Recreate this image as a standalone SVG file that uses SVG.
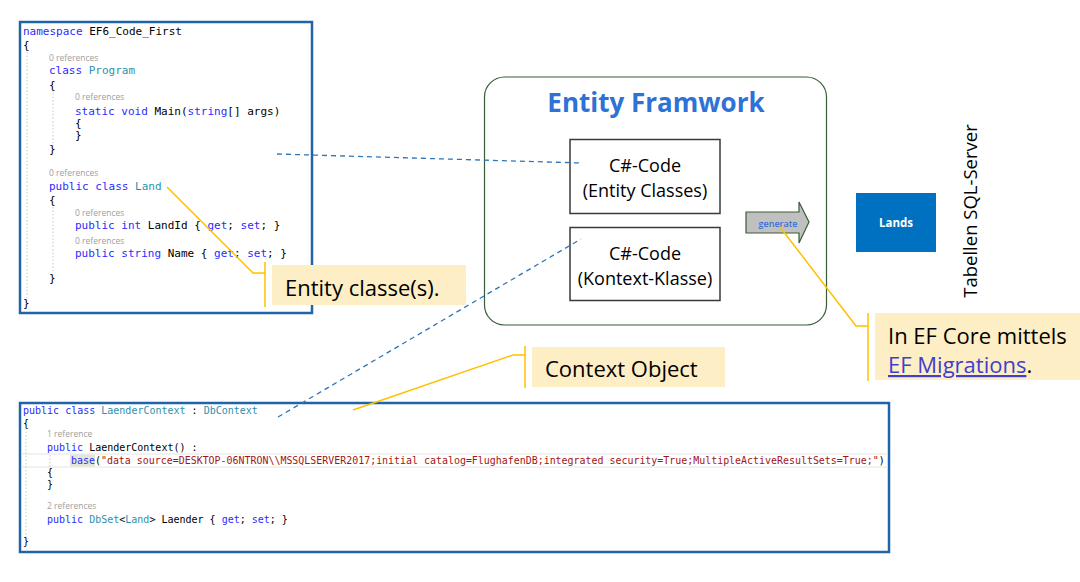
<svg xmlns="http://www.w3.org/2000/svg" width="1080" height="582" viewBox="0 0 1080 582">
<style>
.code{font-family:"DejaVu Sans Mono","Liberation Mono",monospace;fill:#000;white-space:pre}
.c11{font-size:11px}
.c10{font-size:10px}
.kw{fill:#2b2bff}
.ty{fill:#2b91af}
.st{fill:#a31515}
.ref{font-family:"Open Sans","Liberation Sans",sans-serif;font-size:8.5px;fill:#a0a0a0}
.guide{stroke:#c8c8c8;stroke-width:1;stroke-dasharray:1.5 2;fill:none}
.codebox{fill:#fff;stroke:#1f64a8;stroke-width:2.5}
.lbl{font-family:"Open Sans","Liberation Sans",sans-serif;fill:#000}
.callout{fill:#fdeec5;stroke:none}
.ydl{stroke:#ffc000;stroke-width:1.5;fill:none}
.bdash{stroke:#2e75b6;stroke-width:1.3;stroke-dasharray:5 4;fill:none}
.inner{fill:#fff;stroke:#3a3a3a;stroke-width:1.5}
</style>

<g id="code-entity">
<rect class="codebox" x="20" y="22" width="292" height="291"/>
<line class="guide" x1="27" y1="52" x2="27" y2="298"/>
<line class="guide" x1="53" y1="93" x2="53" y2="146"/>
<line class="guide" x1="53" y1="207" x2="53" y2="274"/>
<text class="code c11" x="23" y="35"><tspan class="kw">namespace</tspan> EF6_Code_First</text>
<text class="code c11" x="23" y="49">{</text>
<text class="ref" x="49" y="61">0 references</text>
<text class="code c11" x="49" y="74"><tspan class="kw">class</tspan> <tspan class="ty">Program</tspan></text>
<text class="code c11" x="49" y="89">{</text>
<text class="ref" x="75" y="100">0 references</text>
<text class="code c11" x="75" y="115"><tspan class="kw">static void</tspan> Main(<tspan class="kw">string</tspan>[] args)</text>
<text class="code c11" x="75" y="127">{</text>
<text class="code c11" x="75" y="139">}</text>
<text class="code c11" x="49" y="153">}</text>
<text class="ref" x="49" y="176">0 references</text>
<text class="code c11" x="49" y="190"><tspan class="kw">public class</tspan> <tspan class="ty">Land</tspan></text>
<text class="code c11" x="49" y="204">{</text>
<text class="ref" x="75" y="216">0 references</text>
<text class="code c11" x="75" y="229"><tspan class="kw">public int</tspan> LandId { <tspan class="kw">get</tspan>; <tspan class="kw">set</tspan>; }</text>
<text class="ref" x="75" y="244">0 references</text>
<text class="code c11" x="75" y="257"><tspan class="kw">public string</tspan> Name { <tspan class="kw">get</tspan>; <tspan class="kw">set</tspan>; }</text>
<text class="code c11" x="49" y="282">}</text>
<text class="code c11" x="23" y="307">}</text>
</g>

<g id="code-context">
<rect class="codebox" x="20" y="403" width="869" height="149"/>
<line x1="21" y1="454" x2="888" y2="454" stroke="#e4e4e4" stroke-width="1"/>
<line x1="21" y1="467" x2="888" y2="467" stroke="#e4e4e4" stroke-width="1"/>
<rect x="70" y="454.5" width="25" height="12" fill="#e3e5d6"/>
<line class="guide" x1="26" y1="428" x2="26" y2="537"/>
<line class="guide" x1="50" y1="455" x2="50" y2="480"/>
<text class="code c10" x="23" y="413.5"><tspan class="kw">public class</tspan> <tspan class="ty">LaenderContext</tspan> : <tspan class="ty">DbContext</tspan></text>
<text class="code c10" x="23" y="427">{</text>
<text class="ref" x="47" y="437">1 reference</text>
<text class="code c10" x="47" y="450.5"><tspan class="kw">public</tspan> LaenderContext() :</text>
<text class="code" font-size="9.95" x="71" y="463.5"><tspan class="kw">base</tspan>(<tspan class="st">"data source=DESKTOP-06NTRON\\MSSQLSERVER2017;initial catalog=FlughafenDB;integrated security=True;MultipleActiveResultSets=True;"</tspan>)</text>
<text class="code c10" x="47" y="475.5">{</text>
<text class="code c10" x="47" y="487.5">}</text>
<text class="ref" x="47" y="509">2 references</text>
<text class="code c10" x="47" y="522.5"><tspan class="kw">public</tspan> <tspan class="ty">DbSet</tspan>&lt;<tspan class="ty">Land</tspan>&gt; Laender { <tspan class="kw">get</tspan>; <tspan class="kw">set</tspan>; }</text>
<text class="code c10" x="23" y="544.5">}</text>
</g>

<g id="entity-framework">
<rect x="484.5" y="77" width="342" height="248" rx="20" ry="20" fill="#fff" stroke="#385d38" stroke-width="1.2"/>
<text x="656" y="112" text-anchor="middle" font-family="'Open Sans','Liberation Sans',sans-serif" font-weight="bold" font-size="26" fill="#2f72d6">Entity Framwork</text>
</g>

<g id="entity-classes">
<rect class="inner" x="570" y="139.5" width="150" height="74"/>
<text class="lbl" x="645" y="172" text-anchor="middle" font-size="18">C#-Code</text>
<text class="lbl" x="645" y="197" text-anchor="middle" font-size="18">(Entity Classes)</text>
</g>

<g id="kontext-klasse">
<rect class="inner" x="570" y="227.5" width="150" height="73"/>
<text class="lbl" x="645" y="260" text-anchor="middle" font-size="18">C#-Code</text>
<text class="lbl" x="645" y="285" text-anchor="middle" font-size="18">(Kontext-Klasse)</text>
</g>

<g id="generate">
<path d="M746 212 H799 V202 L809 222 L799 243 V233 H746 Z" fill="#c0c0c0" stroke="#385d38" stroke-width="1.2"/>
<text x="778" y="227" text-anchor="middle" font-family="'Open Sans','Liberation Sans',sans-serif" font-weight="600" font-size="9" fill="#3a6fd8">generate</text>
</g>

<g id="lands">
<rect x="856" y="193" width="80" height="59" fill="#0070c0"/>
<text x="896" y="227" text-anchor="middle" font-family="'Open Sans','Liberation Sans',sans-serif" font-weight="bold" font-size="11.5" fill="#fff">Lands</text>
</g>

<g id="tabellen">
<text transform="translate(977 211) rotate(-90)" text-anchor="middle" class="lbl" font-size="18.5">Tabellen SQL-Server</text>
</g>

<g id="callout-entity">
<rect class="callout" x="272" y="265" width="194" height="40"/>
<text class="lbl" x="285" y="296" font-size="22">Entity classe(s).</text>
</g>

<g id="callout-context">
<rect class="callout" x="532" y="347" width="193" height="40"/>
<text class="lbl" x="545" y="377" font-size="22">Context Object</text>
</g>

<g id="callout-migrations">
<rect class="callout" x="875" y="313" width="205" height="67"/>
<text class="lbl" x="888" y="344" font-size="22">In EF Core mittels</text>
<text class="lbl" x="888" y="373" font-size="22"><tspan fill="#3f3fd0" text-decoration="underline">EF Migrations</tspan>.</text>
</g>

<g id="connectors">
<path class="bdash" d="M277 154 L581 163"/>
<path class="bdash" d="M278 417 L581 239"/>
<path class="ydl" d="M167 187 L253 273 H265"/>
<path class="ydl" d="M265 262 V307"/>
<path class="ydl" d="M353 410 L513 355 H525"/>
<path class="ydl" d="M525 346 V388"/>
<path class="ydl" d="M780 227 L856 326 H868"/>
<path class="ydl" d="M868 313 V381"/>
</g>
</svg>
